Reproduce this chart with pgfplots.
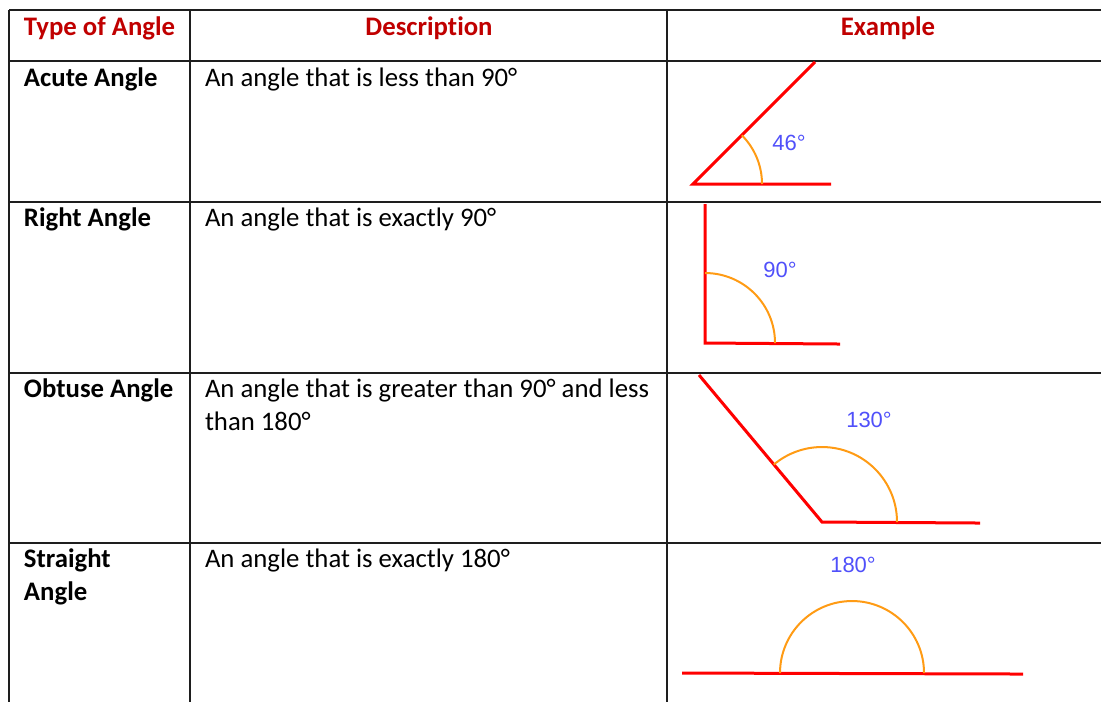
\documentclass[border=0pt]{standalone}
\usepackage{pgfplots}
\pgfplotsset{compat=1.18}
\usepackage{fontspec}
\setmainfont{Carlito}[RawFeature=-liga]
\newfontfamily\labelfont{Liberation Sans}

\definecolor{hdrred}{RGB}{192,0,0}
\definecolor{rayred}{RGB}{255,0,0}
\definecolor{arcorange}{RGB}{255,155,20}
\definecolor{degblue}{RGB}{80,80,250}
\definecolor{rule}{RGB}{30,30,30}

% 1 px of the reference = 0.4pt
\newcommand{\cell}{\fontsize{10.7pt}{13.2pt}\selectfont}
\newcommand{\anglab}{\labelfont\fontsize{8.8pt}{10pt}\selectfont\color{degblue}}

\begin{document}
\begin{tikzpicture}
\begin{axis}[
    width=440.4pt, height=280.8pt,
    scale only axis,
    hide axis,
    xmin=0, xmax=1101,
    ymin=0, ymax=702,
    y dir=reverse,
]
\tikzset{txt/.style={inner sep=0pt, outer sep=0pt}}
\path (rel axis cs:0,0) rectangle (rel axis cs:1,1);

% table rules
\addplot[rule, line width=0.75pt] coordinates {(9,10)(1101,10)};
\addplot[rule, line width=0.75pt] coordinates {(9,61)(1101,61)};
\addplot[rule, line width=0.75pt] coordinates {(9,202)(1101,202)};
\addplot[rule, line width=0.75pt] coordinates {(9,373)(1101,373)};
\addplot[rule, line width=0.75pt] coordinates {(9,543)(1101,543)};
\addplot[rule, line width=0.75pt] coordinates {(9,10)(9,702)};
\addplot[rule, line width=0.75pt] coordinates {(190,10)(190,702)};
\addplot[rule, line width=0.75pt] coordinates {(667,10)(667,702)};

% header
\node[txt, anchor=base west] at (axis cs:24,35) {\cell\bfseries\color{hdrred}Type of Angle};
\node[txt, anchor=base] at (axis cs:429,35) {\cell\bfseries\color{hdrred}Description};
\node[txt, anchor=base] at (axis cs:888,35) {\cell\bfseries\color{hdrred}Example};

% first column
\node[txt, anchor=base west] at (axis cs:24,86) {\cell\bfseries Acute Angle};
\node[txt, anchor=base west] at (axis cs:24,226) {\cell\bfseries Right Angle};
\node[txt, anchor=base west] at (axis cs:24,397) {\cell\bfseries Obtuse Angle};
\node[txt, anchor=base west] at (axis cs:24,567) {\cell\bfseries Straight};
\node[txt, anchor=base west] at (axis cs:24,600) {\cell\bfseries Angle};

% second column
\node[txt, anchor=base west] at (axis cs:205,86) {\cell An angle that is less than 90°};
\node[txt, anchor=base west] at (axis cs:205,226) {\cell An angle that is exactly 90°};
\node[txt, anchor=base west] at (axis cs:205,397) {\cell An angle that is greater than 90° and less};
\node[txt, anchor=base west] at (axis cs:205,430) {\cell than 180°};
\node[txt, anchor=base west] at (axis cs:205,567) {\cell An angle that is exactly 180°};

% acute, 46
\addplot[rayred, line width=1.2pt] coordinates {(815,62)(693,184)(831,184)};
\draw[arcorange, line width=0.8pt] (axis cs:762,184) arc[start angle=0, end angle=45, radius=27.6pt];
\node[txt] at (axis cs:789,143) {\anglab 46°};

% right, 90
\addplot[rayred, line width=1.2pt] coordinates {(705,204)(705,343)(840,344)};
\draw[arcorange, line width=0.8pt] (axis cs:775,343) arc[start angle=0, end angle=90, radius=28pt];
\node[txt] at (axis cs:780,270) {\anglab 90°};

% obtuse, 130
\addplot[rayred, line width=1.2pt] coordinates {(699,375)(822,522)(980,523)};
\draw[arcorange, line width=0.8pt] (axis cs:897,522) arc[start angle=0, end angle=130, radius=30pt];
\node[txt] at (axis cs:869,420) {\anglab 130°};

% straight, 180
\addplot[rayred, line width=1.2pt] coordinates {(682,673)(1023,674)};
\draw[arcorange, line width=0.8pt] (axis cs:924,673) arc[start angle=0, end angle=180, radius=28.8pt];
\node[txt] at (axis cs:853,565) {\anglab 180°};
\end{axis}
\end{tikzpicture}
\end{document}
